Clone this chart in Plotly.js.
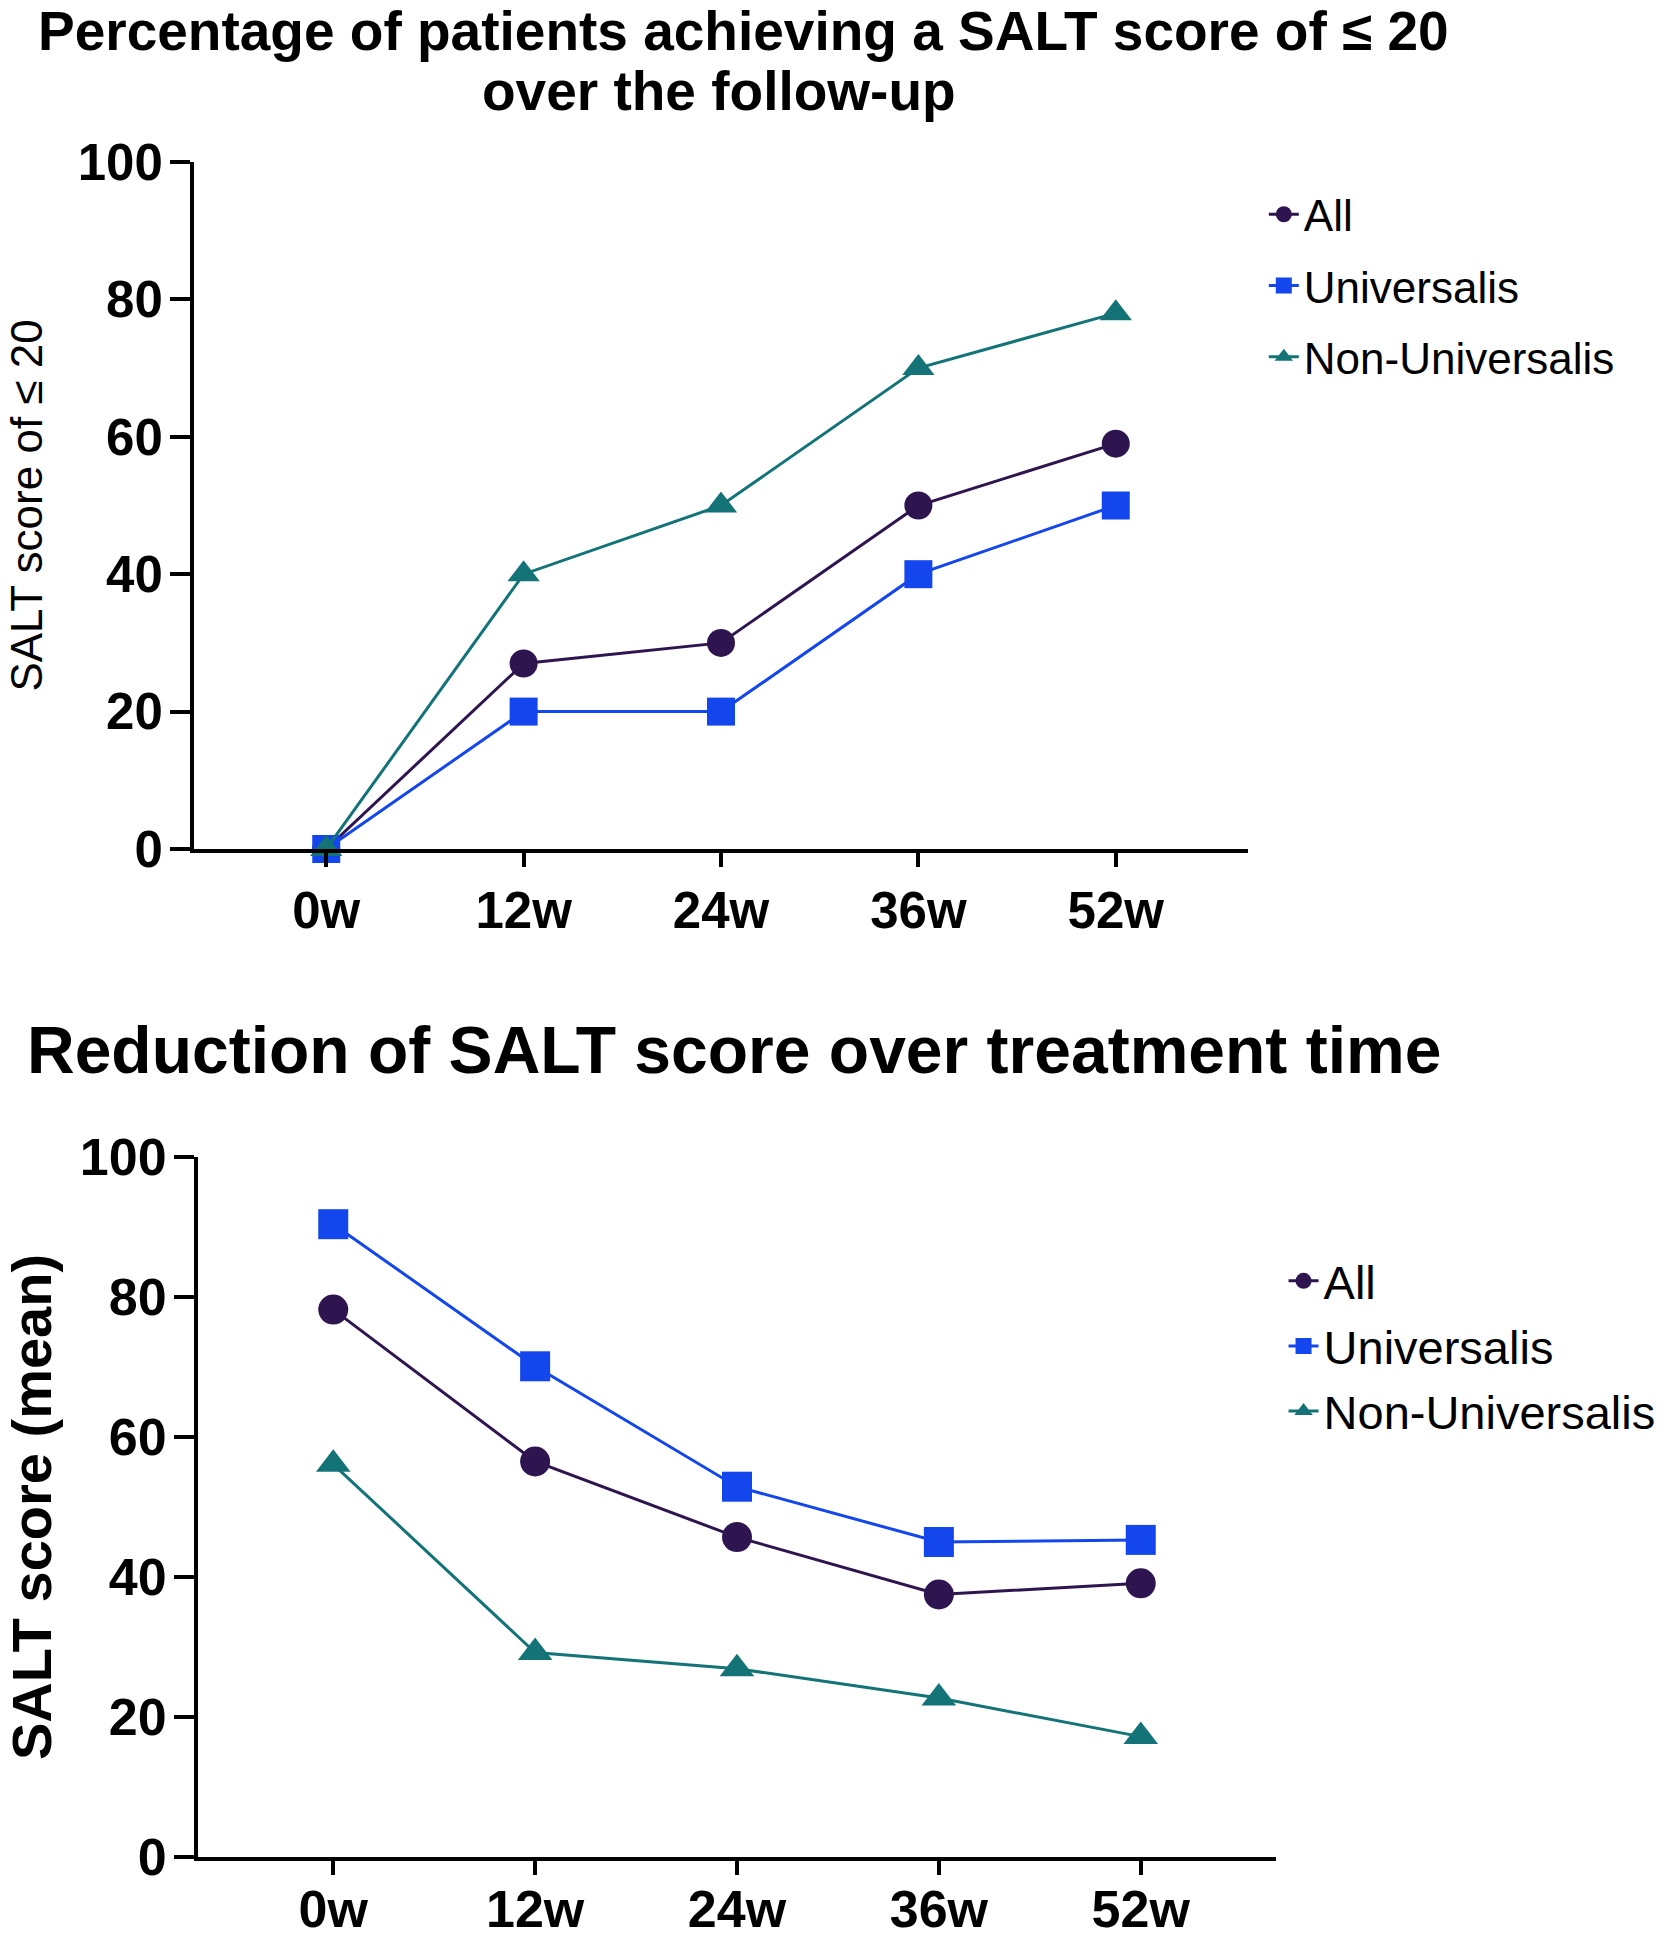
<!DOCTYPE html>
<html>
<head>
<meta charset="utf-8">
<script src="https://cdn.plot.ly/plotly-3.0.1.min.js"></script>
<style>
  html, body { margin: 0; padding: 0; background: #fff; }
  .panel { width: 1668px; height: 970px; }
</style>
</head>
<body>
<div id="pct-chart" class="panel"></div>
<div id="mean-chart" class="panel"></div>
<script>
// Follow-up visits
const weeks = ['0w', '12w', '24w', '36w', '52w'];
const seriesNames = ['All', 'Universalis', 'Non-Universalis'];

// % of patients with SALT <= 20
const pctAll = [0, 27, 30, 50, 59];
const pctUniversalis = [0, 20, 20, 40, 50];
const pctNonUniversalis = [0, 40, 50, 70, 78];

// Mean SALT score
const meanAll = [78.2, 56.5, 45.7, 37.5, 39.1];
const meanUniversalis = [90.4, 70.1, 52.9, 45.0, 45.3];
const meanNonUniversalis = [56.1, 29.2, 26.9, 22.7, 17.2];

const yTicks = [0, 20, 40, 60, 80, 100];

const COLORS = ['#2e1550', '#1446ee', '#137377'];
const SYMBOLS = ['circle', 'square', 'triangle-up'];
const FONT = 'Arial, "Liberation Sans", sans-serif';

function makeTraces(valueSets, markerSize) {
    return valueSets.map((vals, i) => ({
        x: weeks,
        y: vals,
        type: 'scatter',
        mode: 'lines+markers',
        name: seriesNames[i],
        legendgroup: seriesNames[i],
        cliponaxis: false,
        line: { color: COLORS[i], width: 3 },
        marker: { color: COLORS[i], symbol: SYMBOLS[i], size: markerSize },
    }));
}

function axisBase(fontSize) {
    return {
        showline: true,
        linecolor: '#000',
        linewidth: 4,
        ticks: 'outside',
        tickwidth: 4,
        tickcolor: '#000',
        showgrid: false,
        zeroline: false,
        automargin: false,
        tickfont: { family: FONT, size: fontSize, color: '#000', weight: 'bold' },
    };
}

function titleLine(text, x, y, size) {
    return {
        text: text,
        xref: 'paper', yref: 'paper',
        x: x, y: y,
        xanchor: 'center', yanchor: 'middle',
        showarrow: false,
        font: { family: FONT, size: size, color: '#000', weight: 'bold' },
    };
}

// Top panel (title set as two lines, as in the figure)
const topLayout = {
    width: 1668,
    height: 970,
    margin: { l: 194, r: 420, t: 162, b: 121, autoexpand: false },
    paper_bgcolor: '#fff',
    plot_bgcolor: '#fff',
    font: { family: FONT, color: '#000' },
    annotations: [
        titleLine('Percentage of patients achieving a SALT score of ≤ 20', 0.521, 1.19, 55),
        titleLine('over the follow-up', 0.498, 1.104, 55),
    ],
    xaxis: {
        ...axisBase(51),
        type: 'category',
        range: [-0.67, 4.67],
        ticklen: 14,
        ticklabelstandoff: 0,
    },
    yaxis: {
        ...axisBase(51),
        range: [0, 100],
        tickvals: yTicks,
        ticklen: 20,
        ticklabelstandoff: -3,
        title: {
            text: 'SALT score of ≤ 20',
            font: { family: FONT, size: 44, color: '#000' },
            standoff: 22,
        },
    },
    legend: {
        x: 1.015, xanchor: 'left',
        y: 0.975, yanchor: 'top',
        font: { family: FONT, size: 44, color: '#000' },
        tracegroupgap: 11,
        traceorder: 'grouped',
        bgcolor: 'rgba(0,0,0,0)',
    },
    showlegend: true,
};

// Bottom panel
const bottomLayout = {
    width: 1668,
    height: 970,
    margin: { l: 198, r: 392, t: 187, b: 83, autoexpand: false },
    paper_bgcolor: '#fff',
    plot_bgcolor: '#fff',
    font: { family: FONT, color: '#000' },
    title: {
        text: 'Reduction of SALT score over treatment time',
        font: { family: FONT, size: 66, color: '#000', weight: 'bold' },
        xref: 'container', x: 27 / 1668, xanchor: 'left',
        yref: 'container', y: 1 - 80 / 970, yanchor: 'middle',
    },
    xaxis: {
        ...axisBase(52),
        type: 'category',
        range: [-0.67, 4.67],
        ticklen: 14,
        ticklabelstandoff: -10,
    },
    yaxis: {
        ...axisBase(52),
        range: [0, 100],
        tickvals: yTicks,
        ticklen: 20,
        ticklabelstandoff: -3,
        title: {
            text: 'SALT score (mean)',
            font: { family: FONT, size: 56, color: '#000', weight: 'bold' },
            standoff: 40,
        },
    },
    legend: {
        x: 1.007, xanchor: 'left',
        y: 0.876, yanchor: 'top',
        font: { family: FONT, size: 47, color: '#000' },
        tracegroupgap: 1,
        traceorder: 'grouped',
        bgcolor: 'rgba(0,0,0,0)',
    },
    showlegend: true,
};

const config = { staticPlot: true, displayModeBar: false };

Plotly.newPlot('pct-chart',
    makeTraces([pctAll, pctUniversalis, pctNonUniversalis], 28),
    topLayout, config);

Plotly.newPlot('mean-chart',
    makeTraces([meanAll, meanUniversalis, meanNonUniversalis], 30),
    bottomLayout, config);
</script>
</body>
</html>
